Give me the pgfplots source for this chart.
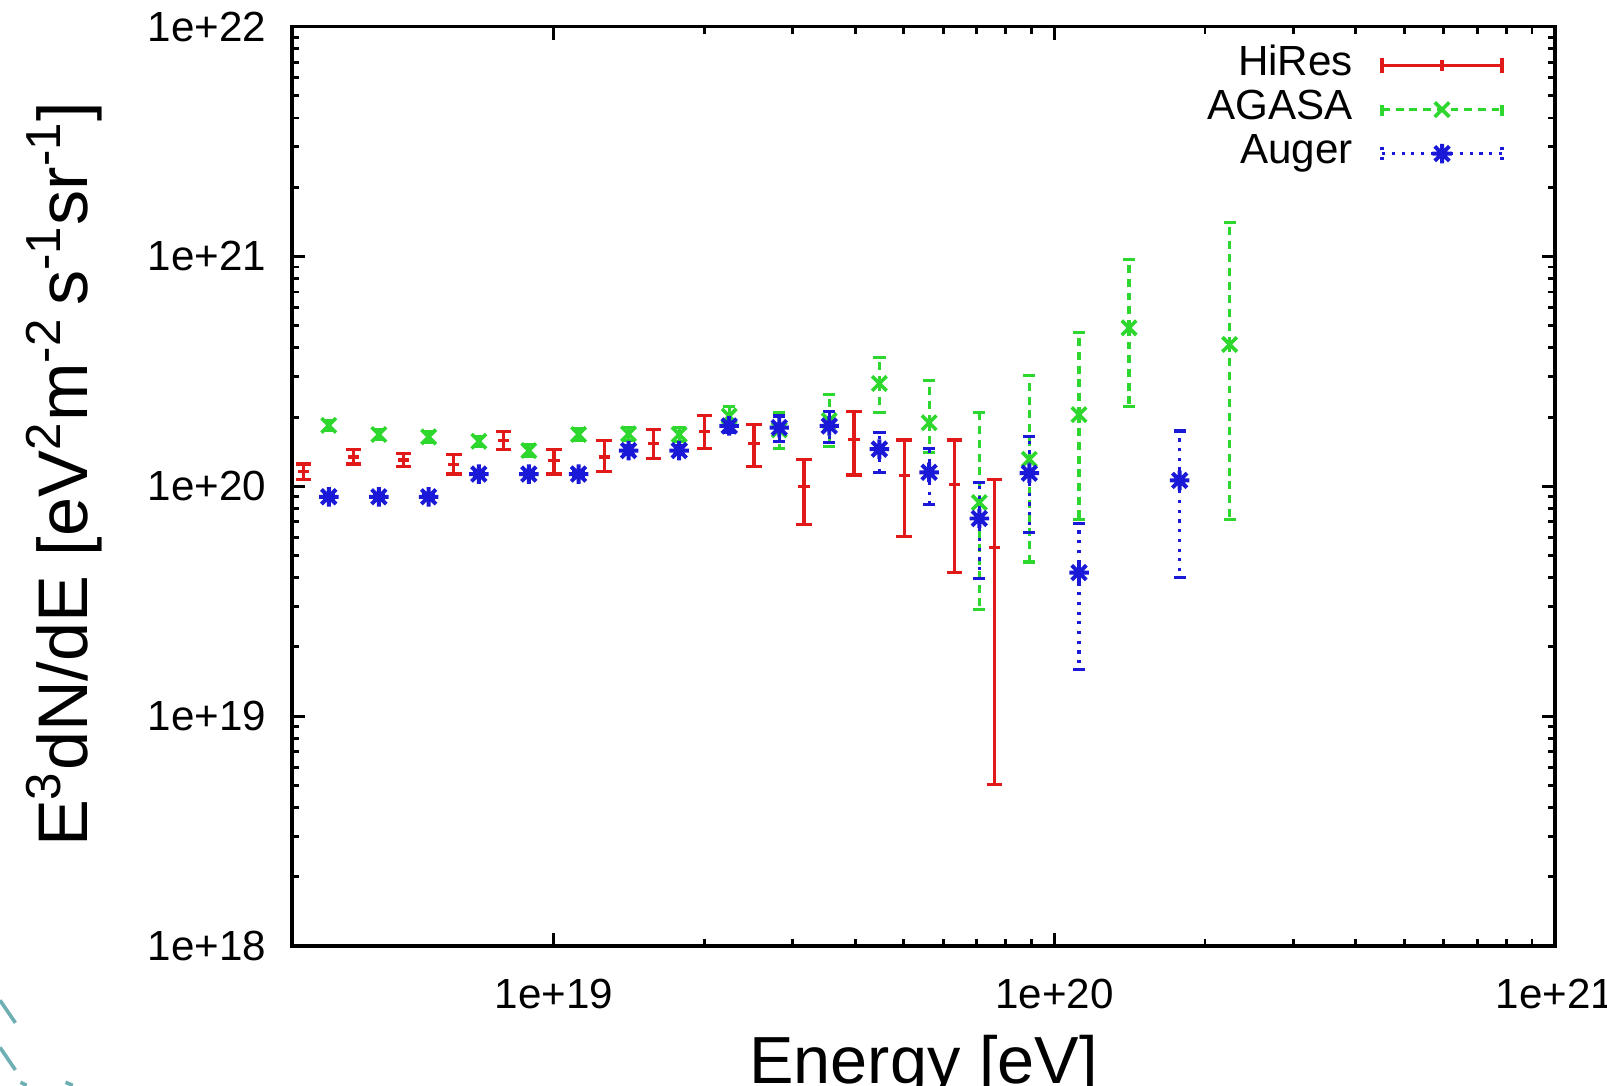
\documentclass[border=0pt]{standalone}
\usepackage{pgfplots}
\pgfplotsset{compat=1.18}
\usepackage{fontspec}
\setmainfont{Liberation Sans}
\definecolor{hires}{RGB}{225,25,25}
\definecolor{agasa}{RGB}{45,215,45}
\definecolor{auger}{RGB}{25,25,215}
\definecolor{deco}{RGB}{110,175,180}
\pgfdeclareplotmark{gpstar}{%
  \pgfpathmoveto{\pgfqpoint{-\pgfplotmarksize}{0pt}}\pgfpathlineto{\pgfqpoint{\pgfplotmarksize}{0pt}}%
  \pgfpathmoveto{\pgfqpoint{0pt}{-\pgfplotmarksize}}\pgfpathlineto{\pgfqpoint{0pt}{\pgfplotmarksize}}%
  \pgfpathmoveto{\pgfqpoint{-0.75\pgfplotmarksize}{-0.75\pgfplotmarksize}}\pgfpathlineto{\pgfqpoint{0.75\pgfplotmarksize}{0.75\pgfplotmarksize}}%
  \pgfpathmoveto{\pgfqpoint{-0.75\pgfplotmarksize}{0.75\pgfplotmarksize}}\pgfpathlineto{\pgfqpoint{0.75\pgfplotmarksize}{-0.75\pgfplotmarksize}}%
  \pgfusepathqstroke}
\tikzset{
  agdash/.style={dash pattern=on 2.2pt off 1.6pt},
  audot/.style={dash pattern=on 0.9pt off 1.8pt},
}
\pgfplotstableread{
x y ep em
3.16e18 1.16e20 0.09e20 0.09e20
3.98e18 1.34e20 0.10e20 0.09e20
5.01e18 1.30e20 0.09e20 0.08e20
6.31e18 1.24e20 0.13e20 0.11e20
7.94e18 1.58e20 0.15e20 0.13e20
1.00e19 1.29e20 0.16e20 0.16e20
1.26e19 1.34e20 0.24e20 0.18e20
1.58e19 1.53e20 0.24e20 0.21e20
2.00e19 1.73e20 0.30e20 0.27e20
2.51e19 1.54e20 0.31e20 0.32e20
3.16e19 1.00e20 0.31e20 0.32e20
3.98e19 1.60e20 0.51e20 0.48e20
5.01e19 1.11e20 0.48e20 0.505e20
6.31e19 1.02e20 0.57e20 0.60e20
7.59e19 0.541e20 0.529e20 0.4905e20
}\hires
\pgfplotstableread{
x y ep em
3.55e18 1.84e20 0.10e20 0.09e20
4.47e18 1.68e20 0.09e20 0.08e20
5.62e18 1.64e20 0.09e20 0.09e20
7.08e18 1.57e20 0.08e20 0.08e20
8.91e18 1.43e20 0.09e20 0.08e20
1.12e19 1.68e20 0.11e20 0.10e20
1.41e19 1.69e20 0.11e20 0.11e20
1.78e19 1.68e20 0.12e20 0.11e20
2.24e19 2.02e20 0.21e20 0.19e20
2.82e19 1.76e20 0.33e20 0.30e20
3.55e19 1.93e20 0.58e20 0.44e20
4.47e19 2.80e20 0.84e20 0.71e20
5.62e19 1.89e20 0.99e20 0.49e20
7.08e19 0.849e20 1.251e20 0.559e20
8.91e19 1.31e20 1.72e20 0.842e20
1.12e20 2.05e20 2.63e20 1.333e20
1.41e20 4.89e20 4.79e20 2.66e20
2.24e20 4.14e20 9.86e20 3.423e20
}\agasa
\pgfplotstableread{
x y ep em
3.55e18 0.90e20 0.03e20 0.03e20
4.47e18 0.90e20 0.03e20 0.03e20
5.62e18 0.90e20 0.03e20 0.03e20
7.08e18 1.13e20 0.04e20 0.04e20
8.91e18 1.13e20 0.04e20 0.04e20
1.12e19 1.13e20 0.04e20 0.04e20
1.41e19 1.43e20 0.07e20 0.06e20
1.78e19 1.43e20 0.07e20 0.06e20
2.24e19 1.83e20 0.12e20 0.12e20
2.82e19 1.80e20 0.22e20 0.23e20
3.55e19 1.83e20 0.28e20 0.28e20
4.47e19 1.45e20 0.27e20 0.30e20
5.62e19 1.15e20 0.31e20 0.316e20
7.08e19 0.724e20 0.316e20 0.328e20
8.91e19 1.14e20 0.51e20 0.512e20
1.12e20 0.421e20 0.268e20 0.262e20
1.78e20 1.06e20 0.68e20 0.66e20
}\auger
\begin{document}
\begin{tikzpicture}
\path[use as bounding box] (0,0) rectangle (15.68cm,10.59cm);
\clip (0,0) rectangle (15.68cm,10.59cm);
\draw[deco, line width=1pt] (0,0.83) -- (0.15,0.61);
\draw[deco, line width=1pt] (0,0.37) -- (0.15,0.15);
\draw[deco, line width=1pt] (0.20,0.03) -- (0.26,0.0);
\draw[deco, line width=1pt] (0.64,0.03) -- (0.71,0.0);
\begin{axis}[
  at={(2.85cm,1.36cm)}, anchor=south west,
  scale only axis, width=12.32cm, height=8.97cm,
  xmode=log, ymode=log,
  xmin=3e18, xmax=1e21, ymin=1e18, ymax=1e22,
  axis line style={line width=1pt},
  tick style={line width=0.8pt, black},
  major tick length=0.13cm, minor tick length=0.07cm,
  tick align=inside, xtick pos=both, ytick pos=both,
  xtick={1e19,1e20,1e21}, xticklabels={1e+19,1e+20,1e+21},
  ytick={1e18,1e19,1e20,1e21,1e22}, yticklabels={1e+18,1e+19,1e+20,1e+21,1e+22},
  ticklabel style={font=\fontsize{11.7}{14}\selectfont},
  xticklabel style={anchor=base, yshift=-0.61cm},
  yticklabel style={anchor=east, xshift=-0.13cm},
  xlabel={Energy [eV]},
  xlabel style={at={(axis description cs:0.5,-0.1494)}, anchor=base, font=\fontsize{18.5}{22}\selectfont},
  ylabel={E\textsuperscript{3}dN/dE [eV\textsuperscript{2}m\textsuperscript{-2}\,s\textsuperscript{-1}sr\textsuperscript{-1}]},
  ylabel style={at={(axis description cs:-0.1623,0.513)}, anchor=base, rotate=0, font=\fontsize{19.5}{23}\selectfont},
  legend plot pos=right, legend cell align=right,
  legend style={draw=none, fill=none, at={(rel axis cs:0.9594,0.98)}, anchor=north east,
    inner sep=0pt, outer sep=0pt, row sep=0.03cm, column sep=0.27cm,
    font=\fontsize{11.7}{14}\selectfont,
    nodes={inner sep=0pt, text height=0.30cm, text depth=0.10cm}},
]
\addplot[hires, only marks, mark=+, mark size=0.055cm, mark options={solid, line width=0.9pt},
  legend image code/.code={
    \draw[hires, line width=0.9pt] (0cm,0cm) -- (1.17cm,0cm);
    \draw[hires, line width=0.9pt] (0cm,-0.075cm) -- (0cm,0.075cm) (1.17cm,-0.075cm) -- (1.17cm,0.075cm);
    \draw[hires, line width=0.9pt] plot[mark=+, mark size=0.055cm] coordinates {(0.585cm,0cm)};
  },
  error bars/.cd, y dir=both, y explicit,
  error bar style={hires, solid, line width=0.9pt},
  error mark options={hires, solid, line width=0.9pt, mark size=0.075cm, rotate=90}]
  table[x=x, y=y, y error plus=ep, y error minus=em] {\hires};
\addlegendentry{HiRes}
\addplot[agasa, only marks, mark=x, mark size=0.1cm, mark options={solid, line width=1pt},
  legend image code/.code={
    \draw[agasa, agdash, line width=0.9pt] (0cm,0cm) -- (1.17cm,0cm);
    \draw[agasa, line width=0.9pt] (0cm,-0.06cm) -- (0cm,0.04cm) (1.17cm,-0.06cm) -- (1.17cm,0.04cm);
    \draw[agasa, line width=1pt] plot[mark=x, mark size=0.1cm] coordinates {(0.585cm,0cm)};
  },
  error bars/.cd, y dir=both, y explicit,
  error bar style={agasa, agdash, line width=0.9pt},
  error mark options={agasa, solid, line width=0.9pt, mark size=0.06cm, rotate=90}]
  table[x=x, y=y, y error plus=ep, y error minus=em] {\agasa};
\addlegendentry{AGASA}
\addplot[auger, only marks, mark=gpstar, mark size=0.095cm, mark options={solid, line width=1.1pt},
  legend image code/.code={
    \draw[auger, audot, line width=0.9pt] (0cm,0cm) -- (1.17cm,0cm);
    \draw[auger, audot, line width=0.9pt] (0cm,-0.06cm) -- (0cm,0.06cm) (1.17cm,-0.06cm) -- (1.17cm,0.06cm);
    \draw[auger, line width=1.1pt] plot[mark=gpstar, mark size=0.095cm] coordinates {(0.585cm,0cm)};
  },
  error bars/.cd, y dir=both, y explicit,
  error bar style={auger, audot, line width=0.9pt},
  error mark options={auger, solid, line width=0.9pt, mark size=0.06cm, rotate=90}]
  table[x=x, y=y, y error plus=ep, y error minus=em] {\auger};
\addlegendentry{Auger}
\end{axis}
\end{tikzpicture}
\end{document}
